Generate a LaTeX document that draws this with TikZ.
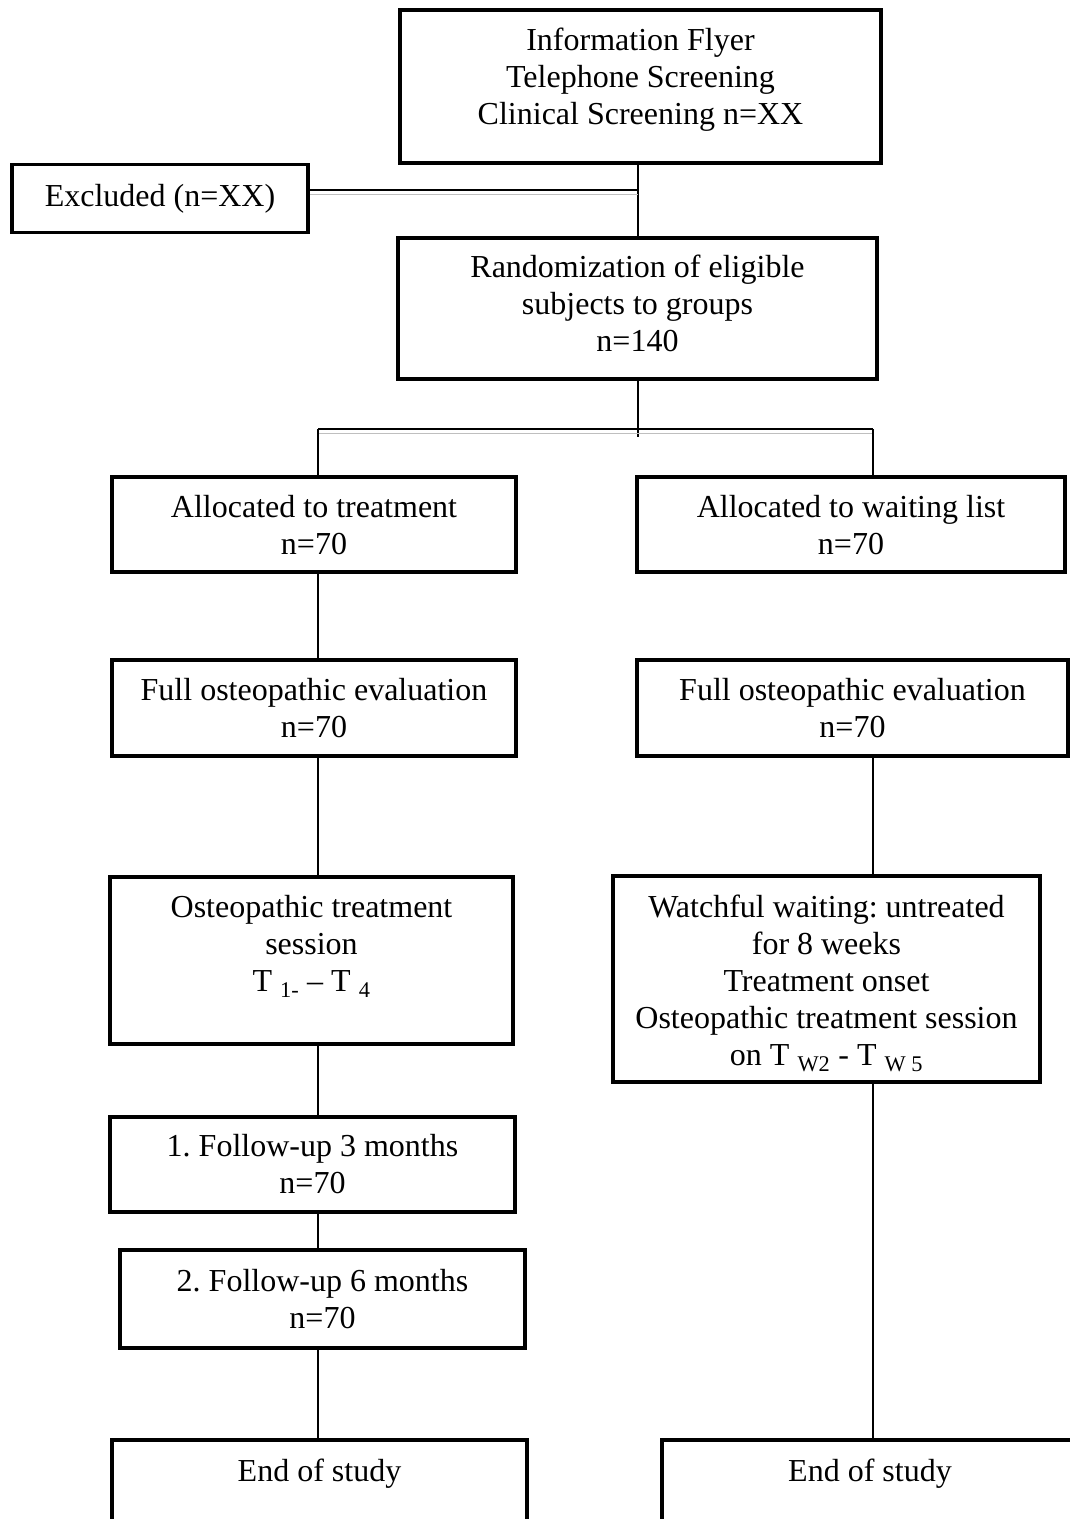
\documentclass[tikz,border=0pt]{standalone}
\usepackage{fontspec}
\setmainfont{Liberation Serif}
\frenchspacing
\begin{document}
\begin{tikzpicture}[x=1pt,y=-1pt,
  box/.style={draw=black, line width=3.6pt, fill=none, inner sep=0pt, rectangle},
  txt/.style={anchor=base, inner sep=0pt, font=\fontsize{32}{37}\selectfont},
  conn/.style={draw=black, line width=2pt},
  ghost/.style={draw=black!25, line width=1.6pt}]
\useasboundingbox (0,0) rectangle (1070,1519);
\clip (0,0) rectangle (1070,1519);
\fill[white] (0,0) rectangle (1070,1519);
% column coordinates
\coordinate (cM) at (638,0);
\coordinate (cL) at (318,0);
\coordinate (cR) at (873,0);
\coordinate (jx) at (638,190);
\coordinate (gx) at (638,194.5);
\coordinate (split) at (638,429);
\coordinate (gsplit) at (638,433.5);
% boxes
\node[box, minimum width=481, minimum height=153] (top) at (640.5,86.5) {};
\node[box, minimum width=296, minimum height=68] (excl) at (160,198.5) {};
\node[box, minimum width=479, minimum height=141] (rand) at (637.5,308.5) {};
\node[box, minimum width=404, minimum height=95] (alL) at (314,524.5) {};
\node[box, minimum width=428, minimum height=95] (alR) at (851,524.5) {};
\node[box, minimum width=404, minimum height=96] (evL) at (314,708) {};
\node[box, minimum width=431, minimum height=96] (evR) at (852.5,708) {};
\node[box, minimum width=403, minimum height=167] (trL) at (311.5,960.5) {};
\node[box, minimum width=427, minimum height=206] (waR) at (826.5,979) {};
\node[box, minimum width=405, minimum height=95] (fu3) at (312.5,1164.5) {};
\node[box, minimum width=405, minimum height=98] (fu6) at (322.5,1299) {};
\node[box, minimum width=415, minimum height=130] (endL) at (319.5,1505) {};
\node[box, minimum width=416, minimum height=130] (endR) at (870,1505) {};
% texts
\newcommand{\tl}[1]{\begin{tabular}[t]{@{}c@{}}#1\end{tabular}}
\node[txt] (ttop) at (640.5,50) {\tl{Information Flyer\\Telephone Screening\\Clinical Screening n=XX}};
\node[txt] (texcl) at (160,206) {Excluded (n=XX)};
\node[txt] (trand) at (637.5,277) {\tl{Randomization of eligible\\subjects to groups\\n=140}};
\node[txt] (talL) at (314,517) {\tl{Allocated to treatment\\n=70}};
\node[txt] (talR) at (851,517) {\tl{Allocated to waiting list\\n=70}};
\node[txt] (tevL) at (314,700) {\tl{Full osteopathic evaluation\\n=70}};
\node[txt] (tevR) at (852.5,700) {\tl{Full osteopathic evaluation\\n=70}};
\node[txt] (ttrL) at (311.5,917) {\tl{Osteopathic treatment\\session\\T \textsubscript{1-} – T \textsubscript{4}}};
\node[txt] (twaR) at (826.5,917) {\tl{Watchful waiting: untreated\\for 8 weeks\\Treatment onset\\Osteopathic treatment session\\on T \textsubscript{W2} - T \textsubscript{W 5}}};
\node[txt] (tfu3) at (312.5,1156) {\tl{1. Follow-up 3 months\\n=70}};
\node[txt] (tfu6) at (322.5,1291) {\tl{2. Follow-up 6 months\\n=70}};
\node[txt] (tendL) at (319.5,1481) {End of study};
\node[txt] (tendR) at (870,1481) {End of study};
% connectors
\draw[conn] (top.south -| cM) -- (rand.north -| cM);
\draw[conn] (excl.east |- jx) -- (jx);
\draw[ghost] (excl.east |- gx) -- (gx);
\draw[conn] (rand.south -| cM) -- ([yshift=-3pt]gsplit);
\draw[conn] (cL |- split) -- (cR |- split);
\draw[ghost] (cL |- gsplit) -- (cR |- gsplit);
\draw[conn] (cL |- split) -- (alL.north -| cL);
\draw[conn] (cR |- split) -- (alR.north -| cR);
\draw[conn] (alL.south -| cL) -- (evL.north -| cL);
\draw[conn] (evL.south -| cL) -- (trL.north -| cL);
\draw[conn] (evR.south -| cR) -- (waR.north -| cR);
\draw[conn] (trL.south -| cL) -- (fu3.north -| cL);
\draw[conn] (fu3.south -| cL) -- (fu6.north -| cL);
\draw[conn] (fu6.south -| cL) -- (endL.north -| cL);
\draw[conn] (waR.south -| cR) -- (endR.north -| cR);
\end{tikzpicture}
\end{document}
